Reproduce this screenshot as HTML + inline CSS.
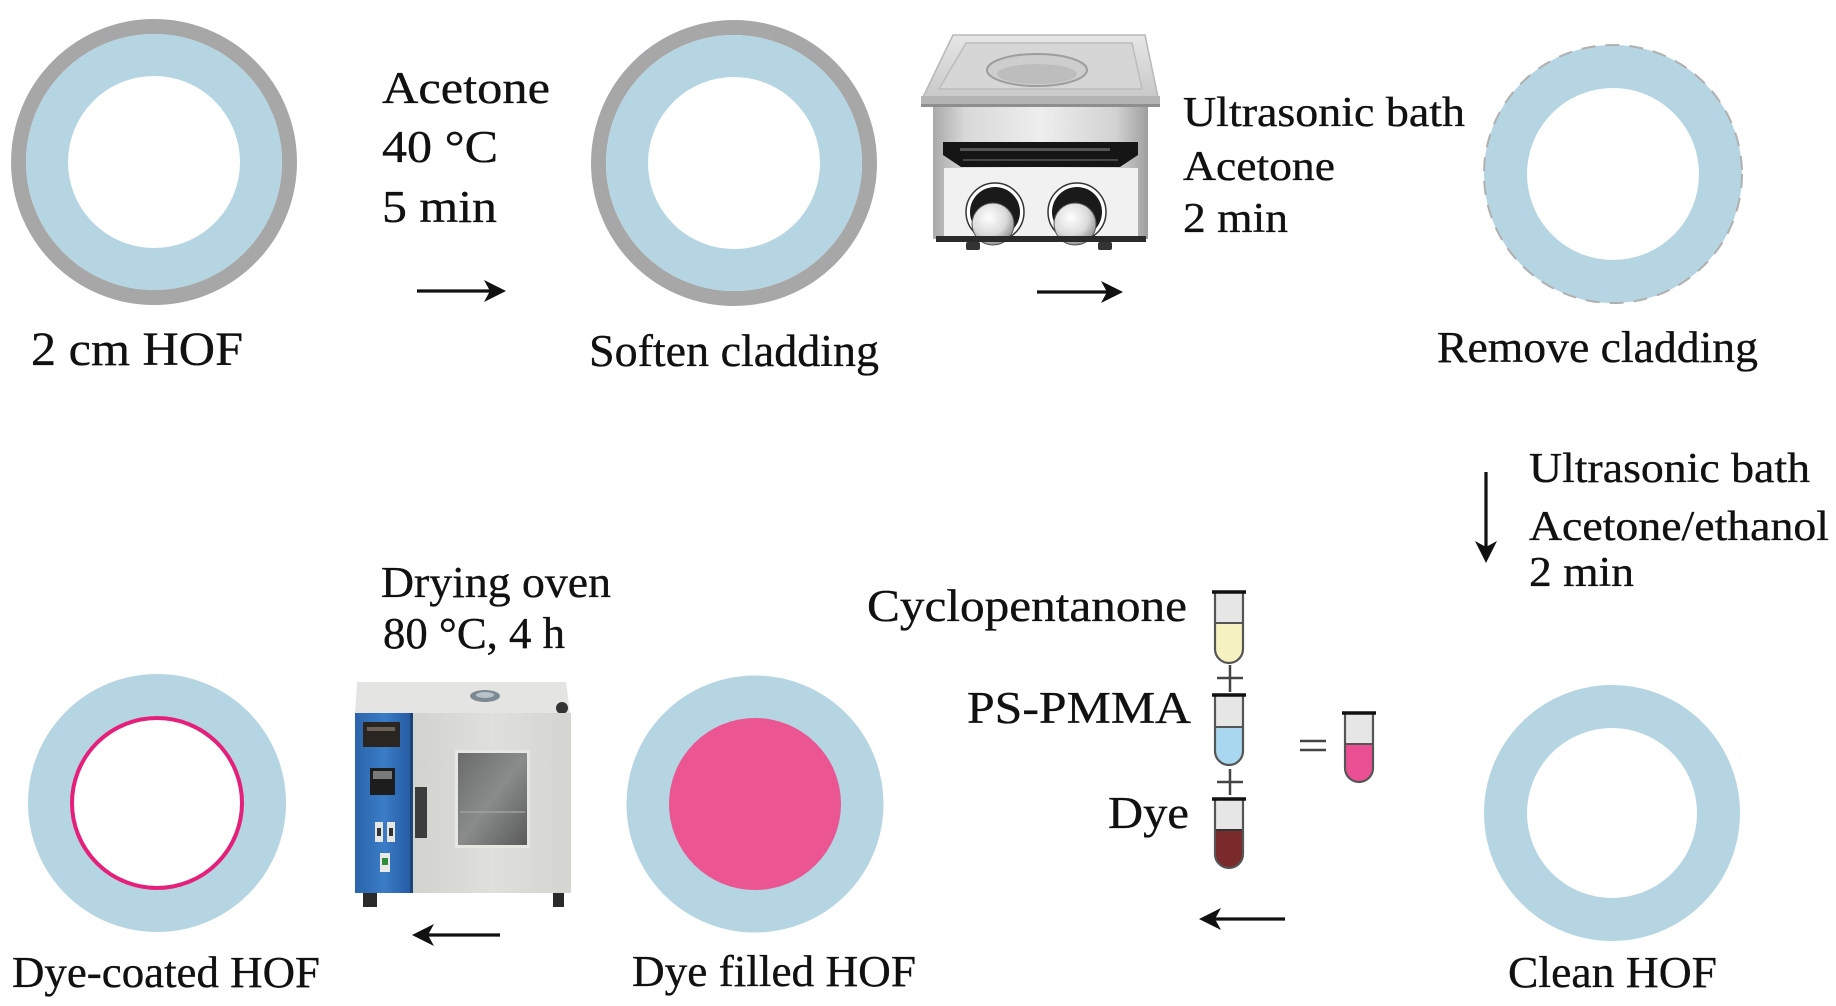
<!DOCTYPE html>
<html>
<head>
<meta charset="utf-8">
<style>
  html,body{margin:0;padding:0;background:#fff;}
  svg{display:block;}
  text{font-family:"Liberation Serif","Times New Roman",serif;fill:#111;stroke:#111;stroke-width:0.35;}
</style>
</head>
<body>
<svg width="1836" height="1006" viewBox="0 0 1836 1006" xmlns="http://www.w3.org/2000/svg">
  <defs>
    <linearGradient id="lidG" x1="0" y1="0" x2="0" y2="1">
      <stop offset="0" stop-color="#e6e6e6"/>
      <stop offset="1" stop-color="#c9c9c9"/>
    </linearGradient>
    <linearGradient id="bodyG" x1="0" y1="0" x2="1" y2="0">
      <stop offset="0" stop-color="#a9a9a9"/>
      <stop offset="0.15" stop-color="#d8d8d8"/>
      <stop offset="0.5" stop-color="#eeeeee"/>
      <stop offset="0.85" stop-color="#d2d2d2"/>
      <stop offset="1" stop-color="#9f9f9f"/>
    </linearGradient>
    <radialGradient id="knobG" cx="0.4" cy="0.35" r="0.7">
      <stop offset="0" stop-color="#ffffff"/>
      <stop offset="0.6" stop-color="#dadada"/>
      <stop offset="1" stop-color="#8a8a8a"/>
    </radialGradient>
    <linearGradient id="doorG" x1="0" y1="0" x2="1" y2="0">
      <stop offset="0" stop-color="#d2d2ce"/>
      <stop offset="0.5" stop-color="#dfdfdb"/>
      <stop offset="1" stop-color="#d4d4d0"/>
    </linearGradient>
    <linearGradient id="blueG" x1="0" y1="0" x2="1" y2="0">
      <stop offset="0" stop-color="#2a64ab"/>
      <stop offset="0.5" stop-color="#3a7cc6"/>
      <stop offset="1" stop-color="#2558a0"/>
    </linearGradient>
    <linearGradient id="winG" x1="0" y1="0" x2="1" y2="1">
      <stop offset="0" stop-color="#6a6a6a"/>
      <stop offset="0.5" stop-color="#8a8c8c"/>
      <stop offset="1" stop-color="#5a5a5a"/>
    </linearGradient>
  </defs>

  <rect x="0" y="0" width="1836" height="1006" fill="#ffffff"/>

  <!-- ===== Top row ===== -->
  <circle cx="154" cy="162" r="135.5" fill="none" stroke="#a7a7a7" stroke-width="15"/>
  <circle cx="154" cy="162" r="107" fill="none" stroke="#b5d5e2" stroke-width="42"/>

  <circle cx="734" cy="163" r="135.5" fill="none" stroke="#a7a7a7" stroke-width="15"/>
  <circle cx="734" cy="163" r="107" fill="none" stroke="#b5d5e2" stroke-width="42"/>

  <circle cx="1613" cy="174" r="107.5" fill="none" stroke="#b5d5e2" stroke-width="43"/>
  <circle cx="1613" cy="174" r="129" fill="none" stroke="#b0b0b0" stroke-width="2" stroke-dasharray="14 10"/>

  <text x="382" y="103" font-size="46" textLength="168" lengthAdjust="spacingAndGlyphs">Acetone</text>
  <text x="382" y="162" font-size="46" textLength="116" lengthAdjust="spacingAndGlyphs">40 °C</text>
  <text x="382" y="222" font-size="46" textLength="115" lengthAdjust="spacingAndGlyphs">5 min</text>

  <text x="31" y="365" font-size="48" textLength="212" lengthAdjust="spacingAndGlyphs">2 cm HOF</text>
  <text x="589" y="366" font-size="45" textLength="290" lengthAdjust="spacingAndGlyphs">Soften cladding</text>

  <text x="1183" y="126" font-size="42" textLength="282" lengthAdjust="spacingAndGlyphs">Ultrasonic bath</text>
  <text x="1183" y="180" font-size="42" textLength="152" lengthAdjust="spacingAndGlyphs">Acetone</text>
  <text x="1183" y="232" font-size="42" textLength="105" lengthAdjust="spacingAndGlyphs">2 min</text>

  <text x="1437" y="362" font-size="44" textLength="321" lengthAdjust="spacingAndGlyphs">Remove cladding</text>

  <!-- Arrow 1 -->
  <line x1="417" y1="291" x2="494" y2="291" stroke="#111" stroke-width="3.2"/>
  <polygon points="506,291 484,280 490,291 484,302" fill="#111"/>

  <!-- Arrow 2 -->
  <line x1="1037" y1="292" x2="1111" y2="292" stroke="#111" stroke-width="3.2"/>
  <polygon points="1123,292 1101,281 1107,292 1101,303" fill="#111"/>

  <!-- Ultrasonic bath -->
  <g>
    <polygon points="953,35 1145,35 1158,97 923,97" fill="url(#lidG)" stroke="#b8b8b8" stroke-width="1.5"/>
    <polygon points="966,43 1132,43 1142,89 939,89" fill="#d6d6d6" stroke="#bcbcbc" stroke-width="1.5"/>
    <ellipse cx="1037" cy="70" rx="50" ry="16" fill="#cdcdcd" stroke="#9d9d9d" stroke-width="2"/>
    <ellipse cx="1037" cy="74" rx="40" ry="10" fill="#bdbdbd"/>
    <rect x="921" y="96" width="239" height="10" fill="#b4b4b4"/>
    <rect x="921" y="104" width="239" height="3" fill="#8e8e8e"/>
    <rect x="933" y="107" width="215" height="132" fill="url(#bodyG)"/>
    <polygon points="943,142 1138,142 1138,155 1120,167 961,167 943,155" fill="#151515"/>
    <line x1="963" y1="160" x2="1118" y2="160" stroke="#777" stroke-width="1"/>
    <rect x="960" y="148" width="150" height="3" fill="#555"/>
    <rect x="944" y="168" width="194" height="68" fill="#f1f1f1"/>
    <circle cx="995" cy="212" r="29" fill="#fff" stroke="#333" stroke-width="1.5"/>
    <circle cx="995" cy="212" r="25" fill="#1a1a1a"/>
    <circle cx="993" cy="224" r="21" fill="url(#knobG)" stroke="#555" stroke-width="1"/>
    <circle cx="1077" cy="212" r="29" fill="#fff" stroke="#333" stroke-width="1.5"/>
    <circle cx="1077" cy="212" r="25" fill="#1a1a1a"/>
    <circle cx="1075" cy="224" r="21" fill="url(#knobG)" stroke="#555" stroke-width="1"/>
    <rect x="936" y="236" width="210" height="6" fill="#2a2a2a"/>
    <rect x="966" y="242" width="14" height="8" rx="2" fill="#333"/>
    <rect x="1098" y="242" width="14" height="8" rx="2" fill="#333"/>
  </g>

  <!-- ===== Right column ===== -->
  <line x1="1486" y1="472" x2="1486" y2="550" stroke="#111" stroke-width="3.2"/>
  <polygon points="1486,563 1475,541 1486,547 1497,541" fill="#111"/>

  <text x="1529" y="482" font-size="42" textLength="281" lengthAdjust="spacingAndGlyphs">Ultrasonic bath</text>
  <text x="1529" y="540" font-size="42" textLength="300" lengthAdjust="spacingAndGlyphs">Acetone/ethanol</text>
  <text x="1529" y="586" font-size="42" textLength="105" lengthAdjust="spacingAndGlyphs">2 min</text>

  <circle cx="1612" cy="813" r="106.5" fill="none" stroke="#b5d5e2" stroke-width="43"/>
  <text x="1508" y="987" font-size="44" textLength="209" lengthAdjust="spacingAndGlyphs">Clean HOF</text>

  <line x1="1285" y1="919" x2="1211" y2="919" stroke="#111" stroke-width="3.2"/>
  <polygon points="1199,919 1221,908 1215,919 1221,930" fill="#111"/>

  <!-- ===== Tubes ===== -->
  <text x="867" y="621" font-size="45" textLength="320" lengthAdjust="spacingAndGlyphs">Cyclopentanone</text>
  <text x="967" y="723" font-size="45" textLength="224" lengthAdjust="spacingAndGlyphs">PS-PMMA</text>
  <text x="1108" y="828" font-size="45" textLength="81" lengthAdjust="spacingAndGlyphs">Dye</text>

  <g>
    <path d="M1215,592 V649 A14,14 0 0 0 1243,649 V592 Z" fill="#f5f1c1"/>
    <rect x="1216" y="592" width="26" height="31" fill="#e6e6e6"/>
    <line x1="1215" y1="623" x2="1243" y2="623" stroke="#555" stroke-width="2"/>
    <path d="M1215,592 V649 A14,14 0 0 0 1243,649 V592" fill="none" stroke="#555" stroke-width="2.2"/>
    <line x1="1212" y1="592" x2="1246" y2="592" stroke="#111" stroke-width="3.5"/>
  </g>
  <line x1="1217" y1="678" x2="1243" y2="678" stroke="#444" stroke-width="2.5"/>
  <line x1="1230" y1="665" x2="1230" y2="692" stroke="#444" stroke-width="2.5"/>
  <g>
    <path d="M1215,695 V751 A14,14 0 0 0 1243,751 V695 Z" fill="#a8d7ef"/>
    <rect x="1216" y="695" width="26" height="32" fill="#e6e6e6"/>
    <line x1="1215" y1="727" x2="1243" y2="727" stroke="#555" stroke-width="2"/>
    <path d="M1215,695 V751 A14,14 0 0 0 1243,751 V695" fill="none" stroke="#555" stroke-width="2.2"/>
    <line x1="1212" y1="695" x2="1246" y2="695" stroke="#111" stroke-width="3.5"/>
  </g>
  <line x1="1217" y1="782" x2="1243" y2="782" stroke="#444" stroke-width="2.5"/>
  <line x1="1230" y1="769" x2="1230" y2="795" stroke="#444" stroke-width="2.5"/>
  <g>
    <path d="M1215,799 V854 A14,14 0 0 0 1243,854 V799 Z" fill="#7a2a2a"/>
    <rect x="1216" y="799" width="26" height="31" fill="#e6e6e6"/>
    <line x1="1215" y1="830" x2="1243" y2="830" stroke="#333" stroke-width="2"/>
    <path d="M1215,799 V854 A14,14 0 0 0 1243,854 V799" fill="none" stroke="#555" stroke-width="2.2"/>
    <line x1="1212" y1="799" x2="1246" y2="799" stroke="#111" stroke-width="3.5"/>
  </g>
  <line x1="1300" y1="741" x2="1326" y2="741" stroke="#444" stroke-width="2.5"/>
  <line x1="1300" y1="750" x2="1326" y2="750" stroke="#444" stroke-width="2.5"/>
  <g>
    <path d="M1345,713 V768 A14,14 0 0 0 1373,768 V713 Z" fill="#eb4f93"/>
    <rect x="1346" y="713" width="26" height="31" fill="#e6e6e6"/>
    <line x1="1345" y1="744" x2="1373" y2="744" stroke="#555" stroke-width="2"/>
    <path d="M1345,713 V768 A14,14 0 0 0 1373,768 V713" fill="none" stroke="#555" stroke-width="2.2"/>
    <line x1="1342" y1="713" x2="1376" y2="713" stroke="#111" stroke-width="3.5"/>
  </g>

  <!-- ===== Bottom row ===== -->
  <circle cx="755" cy="804" r="107" fill="none" stroke="#b5d5e2" stroke-width="43"/>
  <circle cx="755" cy="804" r="86" fill="#ea5592"/>
  <text x="632" y="986" font-size="44" textLength="284" lengthAdjust="spacingAndGlyphs">Dye filled HOF</text>

  <circle cx="157" cy="803" r="107" fill="none" stroke="#b5d5e2" stroke-width="44"/>
  <circle cx="157" cy="803" r="85" fill="#ffffff" stroke="#e5207b" stroke-width="4"/>
  <text x="12" y="987" font-size="44" textLength="308" lengthAdjust="spacingAndGlyphs">Dye-coated HOF</text>

  <text x="381" y="597" font-size="44" textLength="230" lengthAdjust="spacingAndGlyphs">Drying oven</text>
  <text x="383" y="648" font-size="44" textLength="182" lengthAdjust="spacingAndGlyphs">80 °C, 4 h</text>

  <g>
    <polygon points="357,682 566,682 570,713 355,713" fill="#e4e4e2"/>
    <ellipse cx="485" cy="696" rx="15" ry="6" fill="#7d8a94"/>
    <ellipse cx="485" cy="695" rx="9" ry="3" fill="#b8c2c8"/>
    <circle cx="562" cy="708" r="6" fill="#333"/>
    <rect x="355" y="713" width="58" height="180" fill="url(#blueG)"/>
    <rect x="410" y="713" width="3" height="180" fill="#1d4478"/>
    <rect x="363" y="722" width="37" height="25" fill="#2b2521"/>
    <rect x="367" y="727" width="28" height="4" fill="#6a625a"/>
    <rect x="370" y="768" width="25" height="27" fill="#1d1d1d"/>
    <rect x="373" y="771" width="19" height="8" fill="#7a7a7a"/>
    <rect x="375" y="822" width="8" height="20" fill="#e5e5e5"/>
    <rect x="377" y="828" width="4" height="8" fill="#333"/>
    <rect x="387" y="822" width="8" height="20" fill="#e5e5e5"/>
    <rect x="389" y="828" width="4" height="8" fill="#333"/>
    <rect x="380" y="853" width="10" height="19" fill="#e8e8e8"/>
    <rect x="382" y="858" width="6" height="7" fill="#2f8a3a"/>
    <rect x="413" y="713" width="158" height="180" fill="url(#doorG)"/>
    <rect x="415" y="787" width="12" height="51" fill="#3c3c3c"/>
    <rect x="455" y="750" width="75" height="98" fill="#e6e6e2"/>
    <rect x="458" y="753" width="69" height="92" fill="url(#winG)"/>
    <line x1="460" y1="812" x2="525" y2="812" stroke="#a0a0a0" stroke-width="1.5"/>
    <rect x="363" y="893" width="14" height="14" fill="#2a2a2a"/>
    <rect x="553" y="893" width="11" height="14" fill="#2a2a2a"/>
  </g>

  <line x1="500" y1="935" x2="424" y2="935" stroke="#111" stroke-width="3.2"/>
  <polygon points="412,935 434,924 428,935 434,946" fill="#111"/>
</svg>
</body>
</html>
